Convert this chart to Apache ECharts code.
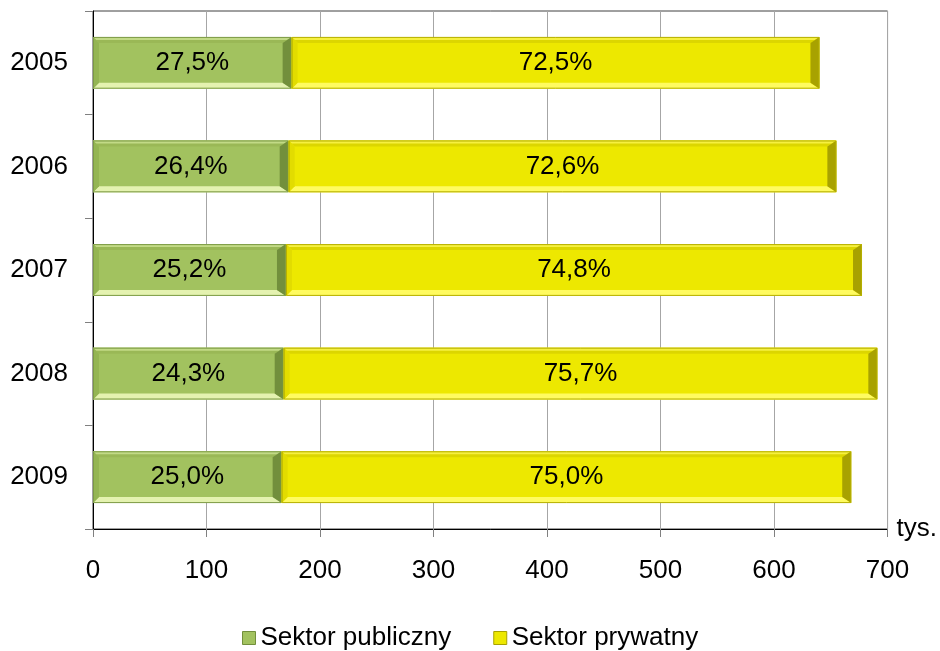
<!DOCTYPE html>
<html>
<head>
<meta charset="utf-8">
<script src="https://cdn.jsdelivr.net/npm/echarts@6/dist/echarts.min.js"></script>
<style>html,body{margin:0;padding:0;background:#fff}#c{width:940px;height:651px}</style>
</head>
<body>
<div id="c"></div>
<script>
var years = ['2005', '2006', '2007', '2008', '2009'];
var publicVals = [175, 172.4, 170, 168, 166.2];
var privateVals = [465, 482.5, 507.5, 523, 501.8];
var publicLabels = ['27,5%', '26,4%', '25,2%', '24,3%', '25,0%'];
var privateLabels = ['72,5%', '72,6%', '74,8%', '75,7%', '75,0%'];
var xTicks = [0, 100, 200, 300, 400, 500, 600, 700];

var FONT = '"Liberation Sans", Arial, sans-serif';

var pal = {
  pub: {base: '#A2C25F', top: '#C2DA86', topIn: '#9AB856', bottom: '#E4F2B0', left: '#94B553', right: '#728F3C', edge: '#7C9A45'},
  priv: {base: '#EDE800', top: '#F6F040', topIn: '#DCD600', bottom: '#FFFB60', left: '#E2DC00', right: '#A8A200', edge: '#B5AF00'}
};

function makeRender(p) {
  return function (params, api) {
    var cat = api.value(0);
    var s = api.value(1), e = api.value(2);
    var a = api.coord([s, cat]);
    var b = api.coord([e, cat]);
    var h = api.size([0, 1])[1] * 0.5;
    var x0 = a[0], x1 = b[0], y0 = a[1] - h / 2, y1 = a[1] + h / 2;
    var dt = 6, dl = 6, dr = 9;
    var children = [
      {type: 'rect', shape: {x: x0, y: y0, width: x1 - x0, height: y1 - y0}, style: {fill: p.base}},
      {type: 'polygon', shape: {points: [[x0, y0], [x1, y0], [x1 - dr, y0 + dt], [x0 + dl, y0 + dt]]}, style: {fill: p.topIn}},
      {type: 'polygon', shape: {points: [[x0, y0], [x1, y0], [x1 - dr / 2, y0 + dt / 2], [x0 + dl / 2, y0 + dt / 2]]}, style: {fill: p.top}},
      {type: 'polygon', shape: {points: [[x0, y1], [x1, y1], [x1 - dr, y1 - dt], [x0 + dl, y1 - dt]]}, style: {fill: p.bottom}},
      {type: 'polygon', shape: {points: [[x0, y0], [x0 + dl, y0 + dt], [x0 + dl, y1 - dt], [x0, y1]]}, style: {fill: p.left}},
      {type: 'polygon', shape: {points: [[x1, y0], [x1 - dr, y0 + dt], [x1 - dr, y1 - dt], [x1, y1]]}, style: {fill: p.right}},
      {type: 'rect', shape: {x: x0 + 0.5, y: y0 + 0.5, width: x1 - x0 - 1, height: y1 - y0 - 1}, style: {fill: 'none', stroke: p.edge, lineWidth: 1}},
      {type: 'text', style: {text: api.value(3), x: (x0 + x1) / 2, y: a[1], align: 'center', verticalAlign: 'middle', fill: '#000', font: '26px ' + FONT}}
    ];
    return {type: 'group', children: children};
  };
}

var pubData = years.map(function (y, i) { return [i, 0, publicVals[i], publicLabels[i]]; });
var privData = years.map(function (y, i) { return [i, publicVals[i], publicVals[i] + privateVals[i], privateLabels[i]]; });

var chart = echarts.init(document.getElementById('c'), null, {renderer: 'canvas'});
chart.setOption({
  animation: false,
  backgroundColor: '#fff',
  textStyle: {fontFamily: FONT},
  grid: {left: 93, right: 51, top: 11, bottom: 122, show: true, borderColor: '#404040', borderWidth: 1, backgroundColor: 'transparent'},
  legend: {
    left: 237, top: 620,
    itemWidth: 13, itemHeight: 13, itemGap: 42,
    icon: 'rect',
    textStyle: {fontSize: 26, color: '#000', fontFamily: FONT},
    data: [
      {name: 'Sektor publiczny', itemStyle: {color: pal.pub.base, borderColor: pal.pub.right, borderWidth: 1}},
      {name: 'Sektor prywatny', itemStyle: {color: pal.priv.base, borderColor: pal.priv.right, borderWidth: 1}}
    ]
  },
  xAxis: {
    type: 'value', min: xTicks[0], max: xTicks[xTicks.length - 1], interval: 100,
    name: 'tys.', nameLocation: 'end', nameGap: 9,
    nameTextStyle: {fontSize: 26, color: '#000', fontFamily: FONT, verticalAlign: 'middle'},
    axisLine: {show: true, lineStyle: {color: '#000', width: 1}},
    axisTick: {show: true, length: 8, lineStyle: {color: '#808080'}},
    axisLabel: {fontSize: 26, color: '#000', margin: 29, fontFamily: FONT},
    splitLine: {show: true, lineStyle: {color: '#A6A6A6', width: 1}}
  },
  yAxis: {
    type: 'category', data: years, inverse: true,
    axisLine: {show: true, lineStyle: {color: '#000', width: 1}},
    axisTick: {show: true, length: 8, lineStyle: {color: '#808080'}},
    axisLabel: {fontSize: 26, color: '#000', margin: 25, fontFamily: FONT},
    splitLine: {show: false}
  },
  series: [
    {name: 'Sektor publiczny', type: 'custom', renderItem: makeRender(pal.pub), data: pubData,
     itemStyle: {color: pal.pub.base}, encode: {x: [1, 2], y: 0}, z: 3},
    {name: 'Sektor prywatny', type: 'custom', renderItem: makeRender(pal.priv), data: privData,
     itemStyle: {color: pal.priv.base}, encode: {x: [1, 2], y: 0}, z: 3}
  ]
});
</script>
</body>
</html>
